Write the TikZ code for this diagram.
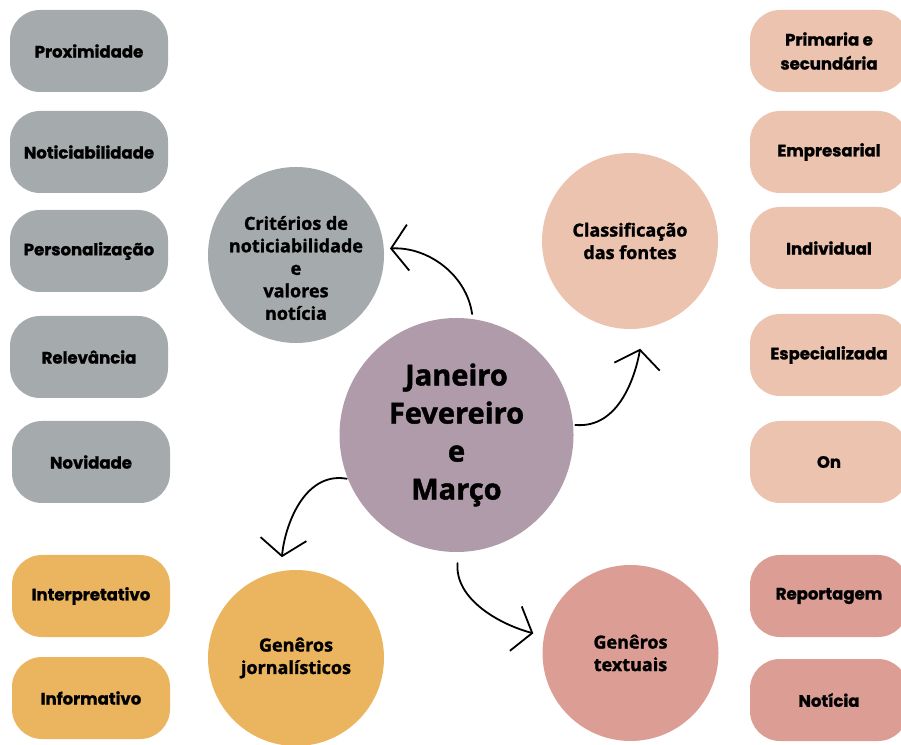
\documentclass[tikz,border=0pt]{standalone}
\usepackage{fontspec}
\setmainfont{Open Sans}[BoldFeatures={FakeBold=1.5}]
\newfontfamily\pillfont{Poppins}[BoldFeatures={FakeBold=1.2}]
\usetikzlibrary{arrows.meta}
\definecolor{cinza}{HTML}{A5AAAD}
\definecolor{malva}{HTML}{B09BAA}
\definecolor{pessego}{HTML}{EBC3AE}
\definecolor{mostarda}{HTML}{EBB45E}
\definecolor{rosa}{HTML}{DC9E94}
\begin{document}
\begin{tikzpicture}[x=1pt,y=1pt,
  pill/.style={rounded corners=30pt,minimum width=158pt,minimum height=82pt,inner sep=0pt,align=center,font=\pillfont\bfseries\fontsize{16.5}{24}\selectfont},
  bubble/.style={circle,minimum size=176pt,inner sep=0pt,align=center,font=\bfseries\fontsize{18}{22.5}\selectfont},
  seta/.style={-{Straight Barb[length=17pt,width=46pt]},line width=1.8pt,line cap=round,line join=round}]
\clip (0,0) rectangle (901,744);
% central circle and the four themes
\node[bubble,fill=malva,minimum size=234pt,font=\bfseries\fontsize{29}{38}\selectfont] (c) at (456.5,309) {Janeiro\\Fevereiro\\e\\Março};
\node[bubble,fill=cinza] (crit) at (296,489) {};\node[bubble,fill=none] (critlbl) at (296,476) {Critérios de\\noticiabilidade\\e\\valores\\notícia};
\node[bubble,fill=pessego] (class) at (630,503) {Classificação\\das fontes};
\node[bubble,fill=mostarda] (journ) at (296,86) {Genêros\\jornalísticos};
\node[bubble,fill=rosa] (text) at (630.5,91) {Genêros\\textuais};
% left column
\node[pill,fill=cinza] (prox) at (89,693) {Proximidade};\node[pill,fill=cinza] (notic) at (89,592) {Noticiabilidade};\node[pill,fill=cinza] (pers) at (89,493) {Personalização};
\node[pill,fill=cinza] (relev) at (89,387) {Relevância};\node[pill,fill=cinza] (novid) at (91,282) {Novidade};
\node[pill,fill=mostarda] (interp) at (91,148) {Interpretativo};\node[pill,fill=mostarda] (inform) at (91,46) {Informativo};
% right column
\node[pill,fill=pessego] (prim) at (829,693) {Primaria e\\secundária};\node[pill,fill=pessego] (empr) at (829,592) {Empresarial};\node[pill,fill=pessego] (indiv) at (829,496) {Individual};
\node[pill,fill=pessego] (espec) at (829,389) {Especializada};\node[pill,fill=pessego] (on) at (829,282) {On};
\node[pill,fill=rosa] (report) at (829,148) {Reportagem};\node[pill,fill=rosa] (noticia) at (829,44) {Notícia};
% arrows
\draw[seta,shorten <=5pt,shorten >=6pt] (c.82) to[out=98,in=3] (crit.4);
\draw[seta,shorten <=2pt,shorten >=21pt] (c.5) to[out=-5,in=-100] (class.-81);
\draw[seta,shorten <=1pt,shorten >=14pt] (c.202) to[out=170,in=85] (journ.100);
\draw[seta,shorten <=11pt,shorten >=11pt] (c.-89) to[out=-95,in=165] (text.169);
\end{tikzpicture}
\end{document}
